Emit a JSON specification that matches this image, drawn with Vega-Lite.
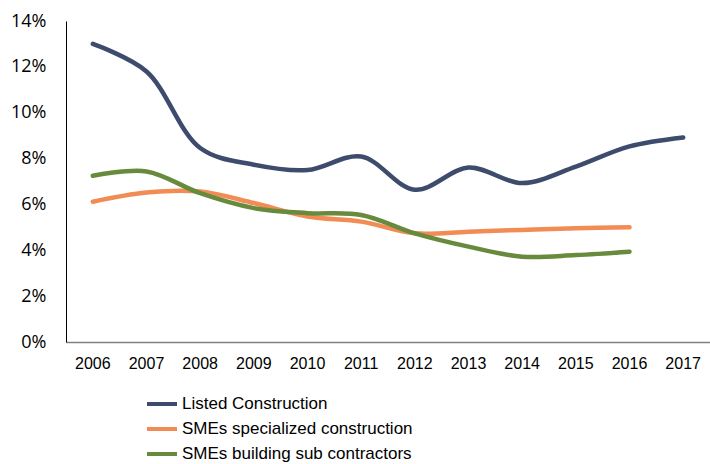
{
  "$schema": "https://vega.github.io/schema/vega-lite/v6.json",
  "width": 644,
  "height": 321,
  "autosize": {"type": "none"},
  "padding": {"left": 66, "top": 21, "right": 0, "bottom": 122},
  "background": "white",
  "config": {"view": {"stroke": null}},
  "data": {"values": [
    {"year": "2006", "series": "Listed Construction", "value": 0.130},
    {"year": "2007", "series": "Listed Construction", "value": 0.118},
    {"year": "2008", "series": "Listed Construction", "value": 0.0846},
    {"year": "2009", "series": "Listed Construction", "value": 0.0773},
    {"year": "2010", "series": "Listed Construction", "value": 0.075},
    {"year": "2011", "series": "Listed Construction", "value": 0.0809},
    {"year": "2012", "series": "Listed Construction", "value": 0.0664},
    {"year": "2013", "series": "Listed Construction", "value": 0.0761},
    {"year": "2014", "series": "Listed Construction", "value": 0.0693},
    {"year": "2015", "series": "Listed Construction", "value": 0.0765},
    {"year": "2016", "series": "Listed Construction", "value": 0.0853},
    {"year": "2017", "series": "Listed Construction", "value": 0.0892},
    {"year": "2006", "series": "SMEs specialized construction", "value": 0.0612},
    {"year": "2007", "series": "SMEs specialized construction", "value": 0.0652},
    {"year": "2008", "series": "SMEs specialized construction", "value": 0.0656},
    {"year": "2009", "series": "SMEs specialized construction", "value": 0.0606},
    {"year": "2010", "series": "SMEs specialized construction", "value": 0.0547},
    {"year": "2011", "series": "SMEs specialized construction", "value": 0.0525},
    {"year": "2012", "series": "SMEs specialized construction", "value": 0.0474},
    {"year": "2013", "series": "SMEs specialized construction", "value": 0.0481},
    {"year": "2014", "series": "SMEs specialized construction", "value": 0.0489},
    {"year": "2015", "series": "SMEs specialized construction", "value": 0.0496},
    {"year": "2016", "series": "SMEs specialized construction", "value": 0.050},
    {"year": "2006", "series": "SMEs building sub contractors", "value": 0.0725},
    {"year": "2007", "series": "SMEs building sub contractors", "value": 0.0744},
    {"year": "2008", "series": "SMEs building sub contractors", "value": 0.0649},
    {"year": "2009", "series": "SMEs building sub contractors", "value": 0.0584},
    {"year": "2010", "series": "SMEs building sub contractors", "value": 0.0562},
    {"year": "2011", "series": "SMEs building sub contractors", "value": 0.0554},
    {"year": "2012", "series": "SMEs building sub contractors", "value": 0.0474},
    {"year": "2013", "series": "SMEs building sub contractors", "value": 0.0416},
    {"year": "2014", "series": "SMEs building sub contractors", "value": 0.0372},
    {"year": "2015", "series": "SMEs building sub contractors", "value": 0.0379},
    {"year": "2016", "series": "SMEs building sub contractors", "value": 0.0394}
  ]},
  "mark": {"type": "line", "interpolate": "catmull-rom", "strokeWidth": 4.5, "strokeCap": "round"},
  "encoding": {
    "x": {
      "field": "year", "type": "ordinal", "title": null,
      "scale": {"type": "band", "paddingInner": 0, "paddingOuter": 0},
      "axis": {"labelAngle": 0, "ticks": false, "domainColor": "#808080", "domainWidth": 1.5, "labelFont": "Liberation Sans", "labelFontSize": 16, "labelColor": "#000000", "labelPadding": 13}
    },
    "y": {
      "field": "value", "type": "quantitative", "title": null,
      "scale": {"domain": [0, 0.14]},
      "axis": {"values": [0, 0.02, 0.04, 0.06, 0.08, 0.1, 0.12, 0.14], "format": ".0%", "grid": false, "ticks": false, "domainColor": "#000000", "domainWidth": 1, "labelFont": "Open Sans", "labelFontSize": 18, "labelColor": "#000000", "labelPadding": 20}
    },
    "color": {
      "field": "series", "type": "nominal",
      "scale": {"domain": ["Listed Construction", "SMEs specialized construction", "SMEs building sub contractors"], "range": ["#3D4B6C", "#F28C55", "#688A3C"]},
      "legend": {"title": null, "orient": "none", "legendX": 79, "legendY": 366, "direction": "vertical", "symbolType": "stroke", "symbolSize": 900, "symbolStrokeWidth": 4, "labelFont": "Liberation Sans", "labelFontSize": 17, "labelLimit": 0, "labelColor": "#000000", "labelOffset": 3, "rowPadding": 0, "padding": 0}
    }
  }
}
